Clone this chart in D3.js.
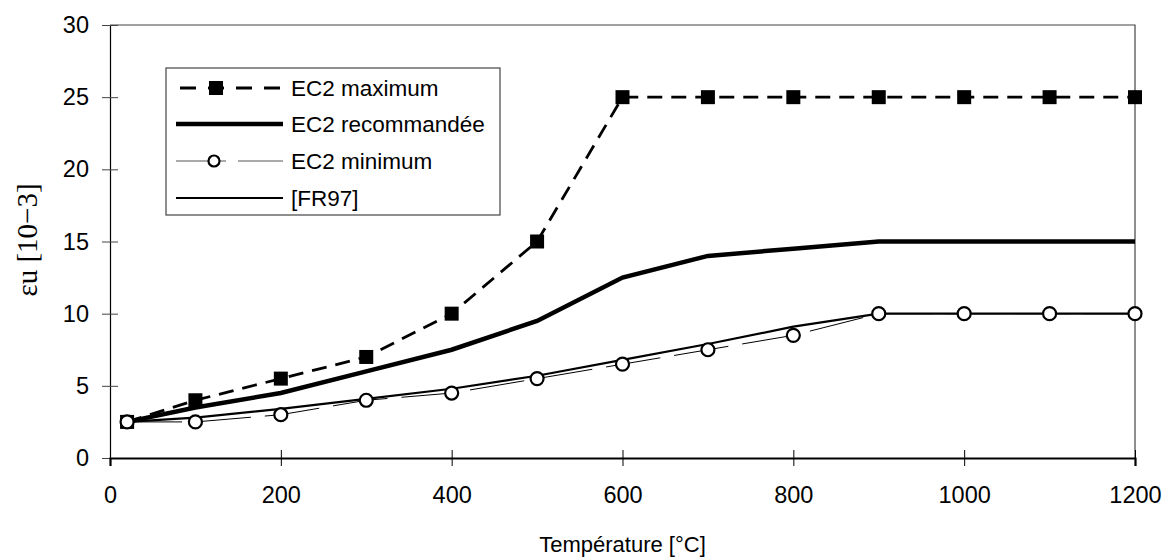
<!DOCTYPE html>
<html>
<head>
<meta charset="utf-8">
<script src="https://cdn.jsdelivr.net/npm/d3@7"></script>
<style>
  body { margin: 0; background: #fff; }
  text { font-family: "Liberation Sans", Arial, sans-serif; fill: #000; }
</style>
</head>
<body>
<div id="chart"></div>
<script>
// temperatures [°C]
var temps = [20, 100, 200, 300, 400, 500, 600, 700, 800, 900, 1000, 1100, 1200];
// ultimate strain [10-3]
var ec2Max = [2.5, 4, 5.5, 7, 10, 15, 25, 25, 25, 25, 25, 25, 25];
var ec2Rec = [2.5, 3.5, 4.5, 6, 7.5, 9.5, 12.5, 14, 14.5, 15, 15, 15, 15];
var ec2Min = [2.5, 2.5, 3, 4, 4.5, 5.5, 6.5, 7.5, 8.5, 10, 10, 10, 10];
var fr97 = [2.5, 2.8, 3.4, 4.1, 4.8, 5.7, 6.8, 7.9, 9.1, 10, 10, 10, 10];
var xTicks = [0, 200, 400, 600, 800, 1000, 1200];
var yTicks = [0, 5, 10, 15, 20, 25, 30];
var legendNames = ["EC2 maximum", "EC2 recommandée", "EC2 minimum", "[FR97]"];

var width = 1166, height = 558;
var mLeft = 110, mRight = 1135, mTop = 25, mBottom = 458;

var svg = d3.select("#chart").append("svg")
    .attr("width", width)
    .attr("height", height);

var x = d3.scaleLinear().domain([0, 1200]).range([mLeft, mRight]);
var y = d3.scaleLinear().domain([0, 30]).range([mBottom, mTop]);

function pts(vals) {
    return temps.map(function(t, i) { return [t, vals[i]]; });
}
var line = d3.line()
    .x(function(d) { return x(d[0]); })
    .y(function(d) { return y(d[1]); });

/* plot frame */
svg.append("path")
    .attr("d", "M" + mLeft + "," + mTop + "H" + mRight + "V" + mBottom)
    .attr("fill", "none")
    .attr("stroke", "#444")
    .attr("stroke-width", 1.2);

/* axes */
var yAxis = svg.append("g")
    .attr("transform", "translate(" + mLeft + ",0)")
    .call(d3.axisLeft(y).tickValues(yTicks).tickSize(8).tickPadding(13));
yAxis.select(".domain").attr("stroke", "#000").attr("stroke-width", 1.2);
yAxis.selectAll(".tick line").attr("x2", -8).attr("x1", 8).attr("stroke", "#444");
yAxis.selectAll(".tick text")
    .attr("font-size", 23.5).attr("font-family", "Liberation Sans, Arial, sans-serif");

var xAxis = svg.append("g")
    .attr("transform", "translate(0," + mBottom + ")")
    .call(d3.axisBottom(x).tickValues(xTicks).tickFormat(d3.format("d")).tickSize(8).tickPadding(20));
xAxis.select(".domain").attr("stroke", "#000").attr("stroke-width", 2.2);
xAxis.selectAll(".tick line").attr("y1", -8).attr("y2", 8).attr("stroke", "#000");
xAxis.selectAll(".tick text")
    .attr("font-size", 23.5).attr("font-family", "Liberation Sans, Arial, sans-serif");

svg.append("text")
    .attr("x", (mLeft + mRight) / 2)
    .attr("y", 552)
    .attr("text-anchor", "middle")
    .attr("font-size", 22)
    .text("Température [°C]");

svg.append("text")
    .attr("transform", "translate(37,240) rotate(-90)")
    .attr("text-anchor", "middle")
    .attr("font-size", 29)
    .style("font-family", "Liberation Serif, 'Times New Roman', serif")
    .text("εu [10−3]");

/* series */
svg.append("path")
    .attr("d", line(pts(ec2Min)))
    .attr("fill", "none")
    .attr("stroke", "#000")
    .attr("stroke-width", 1)
    .attr("stroke-dasharray", "55,14");

svg.append("path")
    .attr("d", line(pts(fr97)))
    .attr("fill", "none")
    .attr("stroke", "#000")
    .attr("stroke-width", 2.2);

svg.append("path")
    .attr("d", line(pts(ec2Rec)))
    .attr("fill", "none")
    .attr("stroke", "#000")
    .attr("stroke-width", 4.5);

svg.append("path")
    .attr("d", line(pts(ec2Max)))
    .attr("fill", "none")
    .attr("stroke", "#000")
    .attr("stroke-width", 2.8)
    .attr("stroke-dasharray", "15,9");

svg.selectAll(".sq").data(pts(ec2Max)).enter().append("rect")
    .attr("class", "sq")
    .attr("x", function(d) { return x(d[0]) - 7; })
    .attr("y", function(d) { return y(d[1]) - 7; })
    .attr("width", 14).attr("height", 14)
    .attr("fill", "#000");

svg.selectAll(".circ").data(pts(ec2Min)).enter().append("circle")
    .attr("class", "circ")
    .attr("cx", function(d) { return x(d[0]); })
    .attr("cy", function(d) { return y(d[1]); })
    .attr("r", 6.5)
    .attr("fill", "#fff")
    .attr("stroke", "#000")
    .attr("stroke-width", 2.2);

/* legend */
var lg = svg.append("g");
lg.append("rect")
    .attr("x", 166).attr("y", 68)
    .attr("width", 334).attr("height", 147)
    .attr("fill", "#fff")
    .attr("stroke", "#444")
    .attr("stroke-width", 1.2);

var rowY = [88, 124, 161, 198];
var lx0 = 176, lx1 = 283;
lg.selectAll(".lt").data(legendNames).enter().append("text")
    .attr("class", "lt")
    .attr("x", 291)
    .attr("y", function(d, i) { return rowY[i]; })
    .attr("dy", "0.35em")
    .attr("font-size", 22.5)
    .text(function(d) { return d; });

lg.append("line").attr("x1", lx0).attr("x2", lx1).attr("y1", rowY[0]).attr("y2", rowY[0])
    .attr("stroke", "#000").attr("stroke-width", 2.8).attr("stroke-dasharray", "16,12")
    .attr("stroke-dashoffset", -4);
lg.append("rect").attr("x", 209).attr("y", rowY[0] - 7)
    .attr("width", 14).attr("height", 14).attr("fill", "#000");

lg.append("line").attr("x1", lx0).attr("x2", lx1).attr("y1", rowY[1]).attr("y2", rowY[1])
    .attr("stroke", "#000").attr("stroke-width", 4.5);

lg.append("line").attr("x1", lx0).attr("x2", lx1).attr("y1", rowY[2]).attr("y2", rowY[2])
    .attr("stroke", "#555").attr("stroke-width", 1).attr("stroke-dasharray", "50,12");
lg.append("circle").attr("cx", 214).attr("cy", rowY[2]).attr("r", 5.5)
    .attr("fill", "#fff").attr("stroke", "#000").attr("stroke-width", 2.2);

lg.append("line").attr("x1", lx0).attr("x2", lx1).attr("y1", rowY[3]).attr("y2", rowY[3])
    .attr("stroke", "#000").attr("stroke-width", 2.2);
</script>
</body>
</html>
